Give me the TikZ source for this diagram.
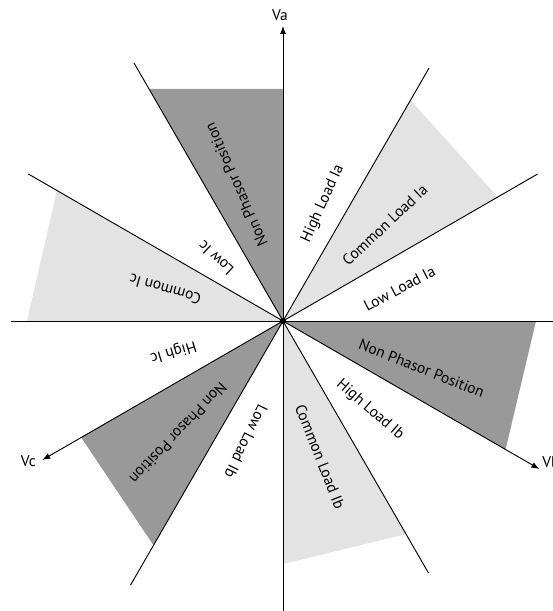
\documentclass[tikz,border=0pt]{standalone}
\usepackage{fontspec}
\setmainfont{PT Sans}
\usetikzlibrary{arrows.meta}
\definecolor{darkreg}{gray}{0.60}
\definecolor{lightreg}{gray}{0.89}
\begin{document}
\begin{tikzpicture}[x=0.75pt,y=0.75pt,
  ray/.style={line width=0.7pt,black},
  axis/.style={line width=0.7pt,black,-{Latex[length=6pt,width=4.5pt]}},
  lbl/.style={font=\fontsize{11.6}{13}\selectfont,inner sep=0pt},
  darkfill/.style={fill=darkreg,draw=none},
  lightfill/.style={fill=lightreg,draw=none}]
\useasboundingbox (-283,-290) rectangle (270,321);
\coordinate (O) at (0,0);
% shaded sectors
\fill[darkfill] (O) -- (0,232) -- (-134,232) -- cycle;
\fill[lightfill] (O) -- (60:255) -- (30:248) -- cycle;
\fill[darkfill] (O) -- (253,0) -- (330:257) -- cycle;
\fill[lightfill] (O) -- (270:243) -- (300:246) -- cycle;
\fill[darkfill] (O) -- (210:233) -- (240:259) -- cycle;
\fill[lightfill] (O) -- (150:261) -- (180:256) -- cycle;
% end points
\coordinate (pU) at (0,295);
\coordinate (pD) at (0,-290);
\coordinate (pR) at (270,0);
\coordinate (pL) at (-272,0);
\coordinate (p30) at (30:294);
\coordinate (p60) at (60:292);
\coordinate (p120) at (120:298);
\coordinate (p150) at (150:294);
\coordinate (p210) at (210:278);
\coordinate (p240) at (240:305);
\coordinate (p300) at (300:291);
\coordinate (p330) at (330:296);
% rays
\draw[ray] (O) -- (pD);
\draw[ray] (O) -- (pR);
\draw[ray] (O) -- (pL);
\draw[ray] (O) -- (p30);
\draw[ray] (O) -- (p60);
\draw[ray] (O) -- (p120);
\draw[ray] (O) -- (p150);
\draw[ray] (O) -- (p240);
\draw[ray] (O) -- (p300);
\draw[axis] (O) -- (pU);
\draw[axis] (O) -- (p210);
\draw[axis] (O) -- (p330);
\fill (O) circle (3.2);
% axis labels
\node[lbl] (va) at (-3,306) {Va};
\node[lbl,anchor=east] (vc) at (-247,-140) {Vc};
\node[lbl,anchor=west] (vb) at (259,-141) {Vb};
% sector labels
\node[lbl,rotate=114] (t1) at (109:144) {Non Phasor Position};
\node[lbl,rotate=137] (t2) at (137:92) {Low Ic};
\node[lbl,rotate=164] (t3) at (165:122) {Common Ic};
\node[lbl,rotate=197] (t4) at (195.6:114) {High Ic};
\node[lbl,rotate=226.5] (t5) at (227:153.5) {Non Phasor Position};
\node[lbl,rotate=244] (t6) at (253:126) {Low Load Ib};
\node[lbl,rotate=-68.4] (t7) at (-74.7:140.6) {Common Load Ib};
\node[lbl,rotate=-41] (t8) at (-45.6:124.5) {High Load Ib};
\node[lbl,rotate=-21.5] (t9) at (-18.8:146.5) {Non Phasor Position};
\node[lbl,rotate=27.6] (t10) at (15.6:121) {Low Load Ia};
\node[lbl,rotate=43.2] (t11) at (43.3:140) {Common Load Ia};
\node[lbl,rotate=65.6] (t12) at (71.2:124) {High Load Ia};
\end{tikzpicture}
\end{document}
